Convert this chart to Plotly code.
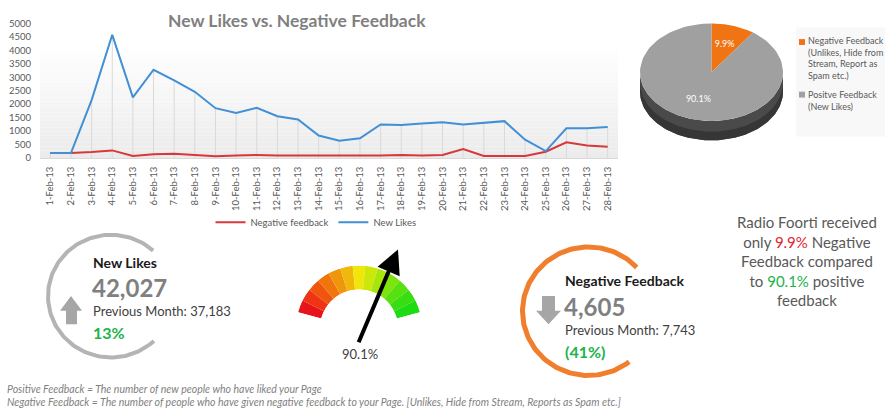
import numpy as np
import plotly.graph_objects as go

# ---------------- data ----------------
dates = ["1-Feb-13", "2-Feb-13", "3-Feb-13", "4-Feb-13", "5-Feb-13", "6-Feb-13", "7-Feb-13",
         "8-Feb-13", "9-Feb-13", "10-Feb-13", "11-Feb-13", "12-Feb-13", "13-Feb-13", "14-Feb-13",
         "15-Feb-13", "16-Feb-13", "17-Feb-13", "18-Feb-13", "19-Feb-13", "20-Feb-13", "21-Feb-13",
         "22-Feb-13", "23-Feb-13", "24-Feb-13", "25-Feb-13", "26-Feb-13", "27-Feb-13", "28-Feb-13"]
new_likes = [180, 180, 2150, 4580, 2250, 3280, 2880, 2460, 1850, 1670, 1860, 1550, 1430, 830,
             640, 726, 1246, 1222, 1283, 1330, 1246, 1307, 1367, 678, 254, 1100, 1100, 1150]
negative = [180, 180, 218, 278, 73, 133, 157, 109, 60, 85, 109, 85, 85, 60,
            60, 60, 85, 109, 85, 109, 327, 73, 73, 73, 230, 580, 460, 411]
y_ticks = [0, 500, 1000, 1500, 2000, 2500, 3000, 3500, 4000, 4500, 5000]

likes_total = 42027
likes_prev = 37183
neg_total = 4605
neg_prev = 7743

pie_names = ["Negative Feedback", "Positve Feedback"]
pie_legend_text = ["Negative Feedback<br>(Unlikes, Hide from<br>Stream, Report as<br>Spam etc.)",
                   "Positve Feedback<br>(New Likes)"]
pie_values = [neg_total, likes_total]
pie_colors = ["#f07314", "#a0a0a0"]

gauge_value = 90.1
gauge_colors = ["#e8141c", "#ee3414", "#f0540e", "#f0760c", "#f0960c", "#f0b80a", "#f0e60a",
                "#cce80a", "#a6e60c", "#7ee40e", "#58e010", "#38de12", "#1edc14"]

footer_lines = [
    "Positive Feedback = The number of new people who have liked your Page",
    "Negative Feedback = The number of people who have given negative feedback to your Page. "
    "[Unlikes, Hide from Stream, Reports as Spam etc.]",
]

# ---------------- helpers ----------------
W, H = 885, 416
FONT = "Lato"


def px(x):
    return x / W


def py(y):
    return 1 - y / H


fig = go.Figure()

# drop lines from the New Likes series
fig.add_trace(go.Scatter(
    x=dates, y=new_likes, mode="markers", marker=dict(opacity=0, size=1),
    error_y=dict(type="data", symmetric=False, array=[0] * len(new_likes), arrayminus=new_likes,
                 color="#d9d9d9", thickness=1, width=0),
    showlegend=False, hoverinfo="skip"))
fig.add_trace(go.Scatter(x=dates, y=negative, mode="lines", name="Negative feedback",
                         line=dict(color="#d8373b", width=2)))
fig.add_trace(go.Scatter(x=dates, y=new_likes, mode="lines", name="New Likes",
                         line=dict(color="#4190d6", width=2)))

# ---------------- pie (3D-looking, drawn from values) ----------------
cx, cy, rx, ry, depth = 711.5, 68, 71.5, 50, 20
share = np.array(pie_values, dtype=float) / sum(pie_values)
bounds = np.concatenate([[0], np.cumsum(share)]) * 2 * np.pi

th = np.linspace(np.pi / 2, 3 * np.pi / 2, 120)
sx = cx + rx * np.sin(th)
sy = cy - ry * np.cos(th)
fig.add_trace(go.Scatter(
    x=np.concatenate([sx, sx[::-1]]), y=np.concatenate([sy, sy[::-1] + depth]),
    mode="lines", fill="toself", fillcolor="#4a4a4a", line=dict(width=0),
    xaxis="x2", yaxis="y2", showlegend=False, hoverinfo="skip"))
fig.add_trace(go.Scatter(
    x=np.concatenate([sx, sx[::-1]]), y=np.concatenate([sy + depth * 0.55, sy[::-1] + depth]),
    mode="lines", fill="toself", fillcolor="#363636", line=dict(width=0),
    xaxis="x2", yaxis="y2", showlegend=False, hoverinfo="skip"))

for i in range(len(pie_values)):
    t = np.linspace(bounds[i], bounds[i + 1], 100)
    xs = np.concatenate([[cx], cx + rx * np.sin(t), [cx]])
    ys = np.concatenate([[cy], cy - ry * np.cos(t), [cy]])
    fig.add_trace(go.Scatter(x=xs, y=ys, mode="lines", fill="toself", fillcolor=pie_colors[i],
                             line=dict(width=0), xaxis="x2", yaxis="y2",
                             showlegend=False, hoverinfo="skip"))
mid = (bounds[:-1] + bounds[1:]) / 2
fig.add_trace(go.Scatter(
    x=cx + 0.6 * rx * np.sin(mid), y=cy - 0.6 * ry * np.cos(mid),
    text=[f"{v * 100:.1f}%" for v in share], mode="text",
    textfont=dict(family=FONT, size=9, color="white"),
    xaxis="x2", yaxis="y2", showlegend=False, hoverinfo="skip"))

# ---------------- gauge ----------------
n = len(gauge_colors)
seg = 150 / n
fig.add_trace(go.Barpolar(
    r=[1] * n, theta=[165 - (i + 0.5) * seg for i in range(n)], width=[seg] * n,
    marker=dict(color=gauge_colors, line=dict(width=0)), subplot="polar",
    showlegend=False, hoverinfo="skip"))

# ---------------- KPI arcs and arrows ----------------
def arc(cx_, cy_, r_, a0, a1, color, w):
    t = np.radians(np.linspace(a0, a1, 150))
    fig.add_trace(go.Scatter(x=cx_ + r_ * np.cos(t), y=cy_ - r_ * np.sin(t), mode="lines",
                             line=dict(color=color, width=w), xaxis="x2", yaxis="y2",
                             showlegend=False, hoverinfo="skip"))


arc(111, 298, 63, 48, 313, "#b4b4b4", 4)
arc(588.5, 313.5, 66, 43, 308, "#f07e2c", 5)

up_x = [71, 82, 77, 77, 66, 66, 60, 71]
up_y = [298, 313, 313, 327, 327, 313, 313, 298]
fig.add_trace(go.Scatter(x=up_x, y=up_y, mode="lines", fill="toself", fillcolor="#a6a6a6",
                         line=dict(width=0), xaxis="x2", yaxis="y2", showlegend=False,
                         hoverinfo="skip"))
dn_x = [542, 555, 555, 561, 548.5, 536, 542, 542]
dn_y = [298, 298, 313, 313, 327, 313, 313, 298]
fig.add_trace(go.Scatter(x=dn_x, y=dn_y, mode="lines", fill="toself", fillcolor="#a6a6a6",
                         line=dict(width=0), xaxis="x2", yaxis="y2", showlegend=False,
                         hoverinfo="skip"))

# ---------------- shapes ----------------
shapes = []
top, bot, left, right = 40, 156, 40, 618
nb = 30
for k in range(nb):
    y0 = top + (bot - top) * k / nb
    y1 = top + (bot - top) * (k + 1) / nb
    c = int(round(255 - 20 * (k + 0.5) / nb))
    shapes.append(dict(type="rect", xref="paper", yref="paper", x0=px(left), x1=px(right),
                       y0=py(y1), y1=py(y0), fillcolor=f"rgb({c},{c},{c})",
                       line=dict(width=0), layer="below"))
shapes.append(dict(type="rect", xref="x2", yref="y2", x0=796, x1=895, y0=22, y1=134,
                   fillcolor="#f8f8f8", line=dict(width=0), layer="below"))
for yy, col in zip([37, 91], pie_colors):
    shapes.append(dict(type="rect", xref="x2", yref="y2", x0=799, x1=805, y0=yy - 3, y1=yy + 3,
                       fillcolor=col, line=dict(width=0)))

# ---------------- annotations ----------------
ann = []


def txt(x, y, s, size, color, bold=False, italic=False, xanchor="left", yanchor="middle",
        align="left"):
    if bold:
        s = f"<b>{s}</b>"
    if italic:
        s = f"<i>{s}</i>"
    ann.append(dict(x=x, y=y, xref="x2", yref="y2", text=s, showarrow=False,
                    xanchor=xanchor, yanchor=yanchor, align=align,
                    font=dict(family=FONT, size=size, color=color)))


txt(297, 15, "New Likes vs. Negative Feedback", 17.5, "#808080", bold=True, xanchor="center")

txt(806, 53, pie_legend_text[0], 9, "#595959", yanchor="middle")
txt(806, 97, pie_legend_text[1], 9, "#595959", yanchor="middle")

likes_chg = (likes_total - likes_prev) / likes_prev * 100
txt(91, 263, "New Likes", 14, "#1a1a1a", bold=True)
txt(90, 289, f"{likes_total:,}", 24, "#808080", bold=True)
txt(91, 313, f"Previous Month: {likes_prev:,}", 13, "#404040")
txt(91, 335, f"{abs(likes_chg):.0f}%", 16, "#22b24c", bold=True)

neg_chg = (neg_total - neg_prev) / neg_prev * 100
txt(563, 282, "Negative Feedback", 14, "#1a1a1a", bold=True)
txt(562, 309, f"{neg_total:,}", 24, "#808080", bold=True)
txt(563, 333, f"Previous Month: {neg_prev:,}", 13, "#404040")
txt(563, 355, f"({abs(neg_chg):.0f}%)", 16, "#22b24c", bold=True)

txt(360, 357, f"{gauge_value:.1f}%", 13, "#404040", xanchor="center")
ann.append(dict(x=398, y=250, ax=358, ay=347, xref="x2", yref="y2", axref="x2", ayref="y2",
                text="", showarrow=True, arrowhead=2, arrowsize=1.2, arrowwidth=4,
                arrowcolor="black"))

neg_pct = share[0] * 100
pos_pct = share[1] * 100
summary = ("Radio Foorti received<br>only <span style='color:#e0262e'>"
           f"{neg_pct:.1f}%</span> Negative<br>Feedback compared<br>to "
           f"<span style='color:#22b24c'>{pos_pct:.1f}%</span> positive<br>feedback")
txt(807, 262, summary, 15, "#595959", xanchor="center", align="center")

txt(5, 393, footer_lines[0], 10.5, "#7f7f7f", italic=True)
txt(5, 407, footer_lines[1], 10.5, "#7f7f7f", italic=True)

tickfont = dict(family=FONT, size=9.5, color="#595959")
fig.update_layout(
    width=W, height=H, margin=dict(l=0, r=0, t=0, b=0),
    paper_bgcolor="white", plot_bgcolor="rgba(0,0,0,0)",
    font=dict(family=FONT),
    xaxis=dict(domain=[px(left), px(right)], type="category", range=[-0.5, len(dates) - 0.5],
               tickangle=-90, tickfont=tickfont, showgrid=False, showline=True,
               linecolor="#d9d9d9", ticks="", ticklabelstandoff=4, fixedrange=True),
    yaxis=dict(domain=[py(156), py(18)], range=[0, 5000], tickvals=y_ticks, tickfont=tickfont,
               showgrid=False, zeroline=False, ticks="", ticklabelstandoff=8, fixedrange=True),
    xaxis2=dict(domain=[0, 1], anchor="y2", range=[0, W], visible=False, fixedrange=True),
    yaxis2=dict(domain=[0, 1], anchor="x2", range=[H, 0], visible=False, fixedrange=True),
    polar=dict(domain=dict(x=[px(298), px(420)], y=[py(332), py(266)]),
               sector=[15, 165], hole=0.62, bgcolor="rgba(0,0,0,0)",
               radialaxis=dict(visible=False, range=[0, 1]),
               angularaxis=dict(visible=False)),
    legend=dict(orientation="h", x=px(316), xanchor="center", y=py(222), yanchor="middle",
                font=dict(family=FONT, size=9.5, color="#595959"), itemwidth=30,
                bgcolor="rgba(0,0,0,0)"),
    shapes=shapes, annotations=ann,
)

fig.write_html("out.html", config={"displayModeBar": False},
               post_script="document.body.style.margin='0';")
